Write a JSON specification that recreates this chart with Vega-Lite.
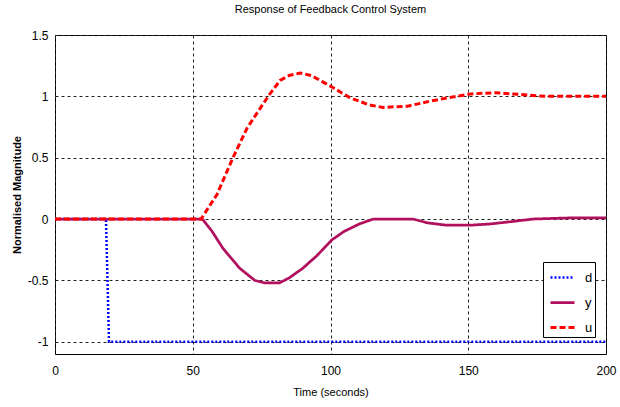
{
  "$schema": "https://vega.github.io/schema/vega-lite/v6.json",
  "width": 551,
  "height": 319,
  "autosize": {"type": "none"},
  "padding": {"left": 55, "top": 35, "right": 14, "bottom": 53},
  "background": "white",
  "title": {
    "text": "Response of Feedback Control System",
    "font": "Liberation Sans",
    "fontSize": 11,
    "fontWeight": "normal",
    "color": "black",
    "offset": 14
  },
  "config": {
    "view": {"stroke": "black", "strokeWidth": 1},
    "axis": {
      "labelFont": "Liberation Sans",
      "labelFontSize": 12,
      "labelColor": "black",
      "titleFont": "Liberation Sans",
      "titleColor": "black",
      "ticks": false,
      "domain": false,
      "grid": true,
      "gridColor": "#222222",
      "gridDash": [3, 3],
      "gridWidth": 1,
      "gridOpacity": 1
    }
  },
  "data": {
    "values": [
      {"t": 0, "v": 0, "s": "d"},
      {"t": 18.5, "v": 0, "s": "d"},
      {"t": 19.6, "v": -1, "s": "d"},
      {"t": 200, "v": -1, "s": "d"},
      {"t": 0, "v": 0, "s": "y"},
      {"t": 53.5, "v": 0, "s": "y"},
      {"t": 57, "v": -0.1, "s": "y"},
      {"t": 61, "v": -0.24, "s": "y"},
      {"t": 67, "v": -0.4, "s": "y"},
      {"t": 72.5, "v": -0.5, "s": "y"},
      {"t": 76, "v": -0.52, "s": "y"},
      {"t": 81.5, "v": -0.52, "s": "y"},
      {"t": 85, "v": -0.48, "s": "y"},
      {"t": 90, "v": -0.4, "s": "y"},
      {"t": 95, "v": -0.3, "s": "y"},
      {"t": 100.5, "v": -0.17, "s": "y"},
      {"t": 105, "v": -0.1, "s": "y"},
      {"t": 110.5, "v": -0.04, "s": "y"},
      {"t": 115.5, "v": 0, "s": "y"},
      {"t": 130, "v": 0, "s": "y"},
      {"t": 135, "v": -0.03, "s": "y"},
      {"t": 142, "v": -0.05, "s": "y"},
      {"t": 151, "v": -0.05, "s": "y"},
      {"t": 158, "v": -0.04, "s": "y"},
      {"t": 166, "v": -0.02, "s": "y"},
      {"t": 173.5, "v": 0, "s": "y"},
      {"t": 188, "v": 0.01, "s": "y"},
      {"t": 200, "v": 0.01, "s": "y"},
      {"t": 0, "v": 0, "s": "u"},
      {"t": 53, "v": 0, "s": "u"},
      {"t": 58.8, "v": 0.2, "s": "u"},
      {"t": 64.6, "v": 0.5, "s": "u"},
      {"t": 69.7, "v": 0.74, "s": "u"},
      {"t": 74.4, "v": 0.9, "s": "u"},
      {"t": 78, "v": 1.02, "s": "u"},
      {"t": 81.7, "v": 1.13, "s": "u"},
      {"t": 85, "v": 1.17, "s": "u"},
      {"t": 89, "v": 1.19, "s": "u"},
      {"t": 93, "v": 1.17, "s": "u"},
      {"t": 97, "v": 1.12, "s": "u"},
      {"t": 101, "v": 1.07, "s": "u"},
      {"t": 107, "v": 0.99, "s": "u"},
      {"t": 114, "v": 0.93, "s": "u"},
      {"t": 119, "v": 0.91, "s": "u"},
      {"t": 128, "v": 0.92, "s": "u"},
      {"t": 136, "v": 0.96, "s": "u"},
      {"t": 143, "v": 0.99, "s": "u"},
      {"t": 151, "v": 1.02, "s": "u"},
      {"t": 160, "v": 1.03, "s": "u"},
      {"t": 166, "v": 1.02, "s": "u"},
      {"t": 172, "v": 1.01, "s": "u"},
      {"t": 178, "v": 1.0, "s": "u"},
      {"t": 200, "v": 1.0, "s": "u"}
    ]
  },
  "mark": {"type": "line", "clip": true},
  "encoding": {
    "x": {
      "field": "t",
      "type": "quantitative",
      "scale": {"domain": [0, 200], "nice": false, "zero": false},
      "axis": {
        "values": [0, 50, 100, 150, 200],
        "title": "Time (seconds)",
        "titleFontSize": 11,
        "titleFontWeight": "normal",
        "titlePadding": 10,
        "labelPadding": 11,
        "labelFlush": false
      }
    },
    "y": {
      "field": "v",
      "type": "quantitative",
      "scale": {"domain": [-1.1, 1.5], "nice": false, "zero": false},
      "axis": {
        "values": [-1, -0.5, 0, 0.5, 1, 1.5],
        "labelExpr": "datum.value < 0 ? '-' + format(-datum.value, '~g') : format(datum.value, '~g')",
        "title": "Normalised Magnitude",
        "titleFontSize": 11,
        "titleFontWeight": "bold",
        "titlePadding": 5,
        "labelPadding": 7,
        "labelFlush": false
      }
    },
    "color": {
      "field": "s",
      "type": "nominal",
      "title": null,
      "scale": {"domain": ["d", "y", "u"], "range": ["#0000ff", "#b0105e", "#ff0000"]},
      "legend": {
        "orient": "none",
        "legendX": 488,
        "legendY": 227,
        "symbolType": "stroke",
        "symbolSize": 576,
        "symbolOffset": 4,
        "labelFont": "Liberation Sans",
        "labelFontSize": 13,
        "labelColor": "black",
        "labelOffset": 9,
        "strokeColor": "black",
        "fillColor": "white",
        "padding": 2,
        "rowPadding": 4,
        "cornerRadius": 0
      }
    },
    "strokeDash": {
      "field": "s",
      "type": "nominal",
      "title": null,
      "scale": {"domain": ["d", "y", "u"], "range": [[2, 2], [1, 0], [6, 3]]}
    },
    "strokeWidth": {
      "field": "s",
      "type": "ordinal",
      "title": null,
      "scale": {"domain": ["d", "y", "u"], "range": [2.5, 3, 2.2]}
    }
  }
}
